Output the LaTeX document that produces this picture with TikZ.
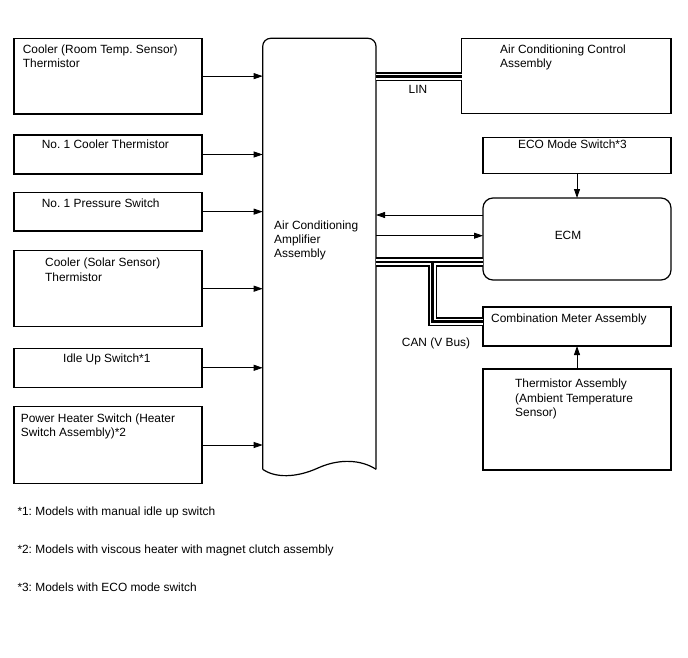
\documentclass[tikz,border=0pt]{standalone}
\usepackage{fontspec}
\setmainfont{Liberation Sans}
\usetikzlibrary{arrows.meta,calc}
\frenchspacing
\begin{document}
\begin{tikzpicture}[x=1pt,y=-1pt,
  box/.style={draw, line width=1.2pt, inner sep=0pt, outer sep=0pt, anchor=north west, minimum width=188pt},
  txt/.style={inner sep=0pt, anchor=base west, font=\fontsize{11.9}{14}\selectfont},
  ctxt/.style={inner sep=0pt, anchor=base, font=\fontsize{11.9}{14}\selectfont},
  conn/.style={line width=0.8pt, -{Triangle[length=9pt,width=6pt]}},
  busout/.style={line width=9.5pt, line join=miter},
  busmid/.style={line width=6pt, white, line join=miter},
  businn/.style={line width=2.8pt, line join=miter},
]
\useasboundingbox (0,0) rectangle (688,658);

% left boxes
\node[box, minimum height=75.7pt] (b1) at (14,38.3) {};
\node[box, minimum height=39pt] (b2) at (14,135) {};
\node[box, minimum height=38.7pt] (b3) at (14,192.3) {};
\node[box, minimum height=76pt] (b4) at (14,250.7) {};
\node[box, minimum height=39pt] (b5) at (14,348.3) {};
\node[box, minimum height=76.6pt] (b6) at (14,406.7) {};

\node[txt] (t1a) at (22.7,54) {Cooler (Room Temp. Sensor)};
\node[txt] (t1b) at (22.7,68) {Thermistor};
\node[txt] (t2) at (41.7,149) {No. 1 Cooler Thermistor};
\node[txt] (t3) at (41.7,207) {No. 1 Pressure Switch};
\node[txt] (t4a) at (45,266.5) {Cooler (Solar Sensor)};
\node[txt] (t4b) at (45,281) {Thermistor};
\node[txt] (t5) at (63,362) {Idle Up Switch*1};
\node[txt] (t6a) at (20.7,422) {Power Heater Switch (Heater};
\node[txt] (t6b) at (20.7,436) {Switch Assembly)*2};

% amplifier
\node[inner sep=0pt, outer sep=0pt, minimum width=113.3pt, minimum height=431pt, anchor=north west] (amp) at (262.7,38.3) {};
\draw[line width=1.2pt, rounded corners=8pt] (amp.south west) -- (amp.north west) -- (amp.north east) -- (amp.south east);
\draw[line width=1.2pt] (amp.south east) .. controls (362,460) and (340,458) .. (318,468) .. controls (296,478) and (275,478) .. (amp.south west);
\node[txt] (ta1) at (274,229) {Air Conditioning};
\node[txt] (ta2) at (274,243.5) {Amplifier};
\node[txt] (ta3) at (274,257) {Assembly};

% right boxes
\node[box, minimum height=75pt, minimum width=209.3pt] (acc) at (461.7,38.3) {};
\node[txt] (tc1) at (500,54) {Air Conditioning Control};
\node[txt] (tc2) at (500,67.5) {Assembly};

\node[box, minimum height=36pt] (eco) at (483,137.3) {};
\node[txt] (te) at (518,149) {ECO Mode Switch*3};

\node[box, minimum height=82pt, rounded corners=10pt] (ecm) at (483,198) {};
\node[ctxt] (tecm) at (568,239) {ECM};

\node[box, minimum height=39pt] (cma) at (483,307) {};
\node[txt] (tcm) at (491,322.5) {Combination Meter Assembly};

\node[box, minimum height=101pt] (thm) at (483,369) {};
\node[txt] (tt1) at (515,387.5) {Thermistor Assembly};
\node[txt] (tt2) at (515,402) {(Ambient Temperature};
\node[txt] (tt3) at (515,416) {Sensor)};

% arrows left
\foreach \b in {b1,b2,b3,b4,b5,b6}
  \draw[conn] (\b.east) -- (\b.east -| amp.west);

% ECO -> ECM, thermistor -> CMA
\draw[conn] (eco.south) -- (ecm.north);
\draw[conn] (thm.north) -- (cma.south);

% ECM <-> amp
\coordinate (ea) at ($(ecm.north west)+(0,17)$);
\coordinate (eb) at ($(ecm.north west)+(0,37.7)$);
\draw[conn] (ea) -- (ea -| amp.east);
\draw[conn] (eb -| amp.east) -- (eb);

% buses
\coordinate (linr) at ($(acc.north west)+(0,38.4)$);
\coordinate (canr) at ($(ecm.north west)+(0,64)$);
\coordinate (cj) at (432.5,262);
\coordinate (cmr) at ($(cma.north west)+(0,14.5)$);
\foreach \s in {busout,busmid,businn}{
  \draw[\s] (linr -| amp.east) -- (linr);
  \draw[\s] (canr -| amp.east) -- (canr);
  \draw[\s] (cj) -- (cj |- cmr) -- (cmr);
}
\node[ctxt] (tlin) at (418,94) {LIN};
\node[ctxt] (tcan) at (436,346) {CAN (V Bus)};

% footnotes
\node[txt] (f1) at (17.3,515) {*1: Models with manual idle up switch};
\node[txt] (f2) at (17.3,553) {*2: Models with viscous heater with magnet clutch assembly};
\node[txt] (f3) at (17.3,591) {*3: Models with ECO mode switch};
\end{tikzpicture}
\end{document}
